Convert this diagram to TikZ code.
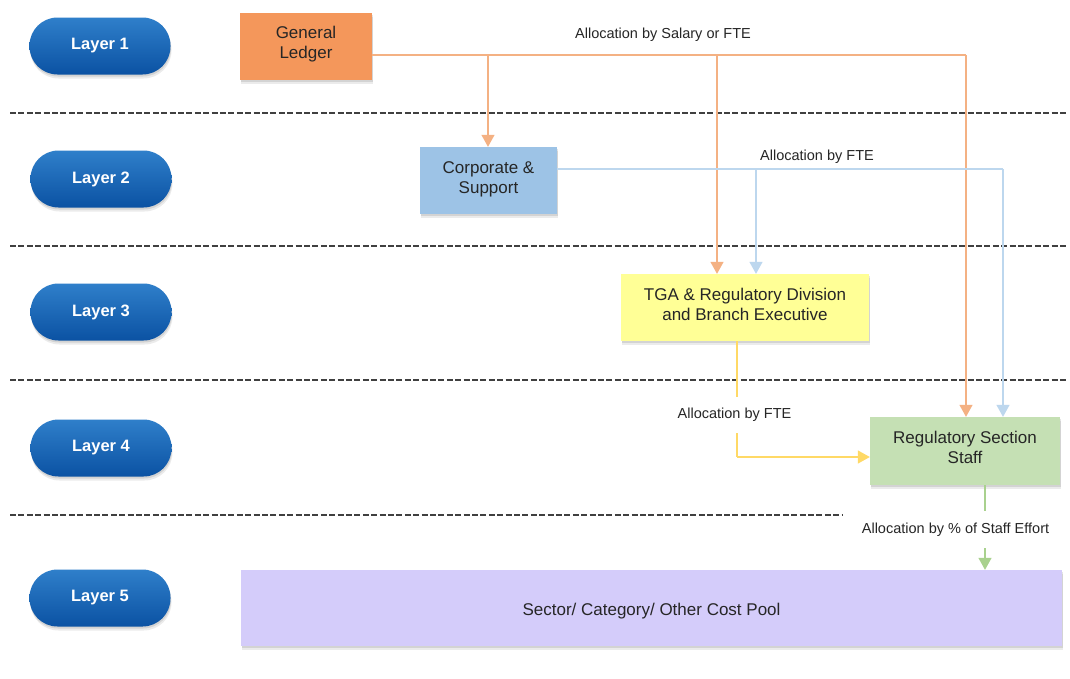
\documentclass[tikz,border=0pt]{standalone}
\usepackage{fontspec}
\setmainfont{Liberation Sans}
\usetikzlibrary{arrows.meta,shadows}
\definecolor{txt}{HTML}{262626}
\definecolor{pilltop}{HTML}{2F7FCA}
\definecolor{pillbot}{HTML}{0B52A3}
\definecolor{glfill}{HTML}{F4975B}
\definecolor{csfill}{HTML}{9DC3E6}
\definecolor{tgafill}{HTML}{FFFF96}
\definecolor{rssfill}{HTML}{C5E0B4}
\definecolor{poolfill}{HTML}{D4CCFA}
\definecolor{oline}{HTML}{F4B183}
\definecolor{bline}{HTML}{BDD7EE}
\definecolor{yline}{HTML}{FFD966}
\definecolor{gline}{HTML}{A9D18E}
\tikzset{
  x=1pt, y=-1pt,
  softshadow/.style={general shadow={shadow xshift=0.5pt, shadow yshift=-2pt, opacity=0.10, fill=black},
                     general shadow={shadow xshift=1pt, shadow yshift=-4pt, opacity=0.08, fill=black}},
  pill/.style={rectangle, rounded corners=28pt, minimum width=141pt, minimum height=57pt, inner sep=0pt,
    top color=pilltop, bottom color=pillbot, draw=none, text=white,
    font=\fontsize{16.5}{18}\selectfont\bfseries, softshadow},
  box/.style={rectangle, inner sep=0pt, draw=none, softshadow},
  boxtext/.style={inner sep=0pt, text=txt, align=center, font=\fontsize{17}{20}\selectfont},
  sep/.style={draw=black!75, line width=1.3pt, dash pattern=on 6pt off 2.4pt},
  conn/.style={line width=1.2pt, -{Triangle[width=13pt,length=12pt]}},
  seg/.style={line width=1.2pt},
  lbl/.style={font=\fontsize{14.5}{16}\selectfont, text=txt, inner sep=0pt},
}
\begin{document}
\begin{tikzpicture}
\useasboundingbox (0,0) rectangle (1070,678);
\fill[white] (0,0) rectangle (1070,678);

% separators
\draw[sep] (10,113) -- (1068,113);
\draw[sep] (10,246) -- (1068,246);
\draw[sep] (10,380) -- (1068,380);
\draw[sep] (10,515) -- (1068,515);

% layer pills
\node[pill] (L1) at (100,46) {Layer 1};
\node[pill] (L2) at (101,179) {Layer 2};
\node[pill] (L3) at (101,312) {Layer 3};
\node[pill] (L4) at (101,448) {Layer 4};
\node[pill] (L5) at (100,598) {Layer 5};

% coordinates for branches
\coordinate (ob1) at (488,55);
\coordinate (ob2) at (717,55);
\coordinate (ocol) at (966,55);
\coordinate (bb1) at (756,169);
\coordinate (bcol) at (1003,169);
\coordinate (ycol) at (737,457);
\coordinate (gcol) at (985,485);

% boxes
\node[box, fill=glfill, minimum width=132pt, minimum height=67pt] (GL) at (306,46.5) {};
\node[boxtext] (GLt) at (306,44.5) {General\\Ledger};
\node[box, fill=csfill, minimum width=137pt, minimum height=67pt] (CS) at (488.5,180.5) {};
\node[boxtext] (CSt) at (488.5,179.5) {Corporate \&\\Support};
\node[box, fill=tgafill, minimum width=248pt, minimum height=67pt] (TGA) at (745,307.5) {};
\node[boxtext] (TGAt) at (745,304.5) {TGA \& Regulatory Division\\and Branch Executive};
\node[box, fill=rssfill, minimum width=190pt, minimum height=68pt] (RSS) at (965,451) {};
\node[boxtext] (RSSt) at (965,447) {Regulatory Section\\Staff};
\node[box, fill=poolfill, minimum width=821pt, minimum height=76pt] (POOL) at (651.5,608) {};
\node[boxtext] (POOLt) at (651.5,611) {Sector/ Category/ Other Cost Pool};

% orange connectors
\draw[seg, oline] (GL.east |- ocol) -- (ocol);
\draw[conn, oline] (ocol) -- (ocol |- RSS.north);
\draw[conn, oline] (ob1) -- (ob1 |- CS.north);
\draw[conn, oline] (ob2) -- (ob2 |- TGA.north);
% blue connectors
\draw[seg, bline] (CS.east |- bcol) -- (bcol);
\draw[conn, bline] (bcol) -- (bcol |- RSS.north);
\draw[conn, bline] (bb1) -- (bb1 |- TGA.north);
% yellow connector
\draw[seg, yline] (ycol |- TGA.south) -- (ycol);
\draw[conn, yline] (ycol) -- (ycol -| RSS.west);
% green connector
\draw[conn, gline] (gcol) -- (gcol |- POOL.north);

% labels
\node[lbl] (la1) at (663,35) {Allocation by Salary or FTE};
\node[lbl] (la2) at (817,157) {Allocation by FTE};
\node[lbl, fill=white, minimum width=130pt, minimum height=36pt] (la3) at (734.5,415) {Allocation by FTE};
\node[lbl, fill=white, minimum width=225pt, minimum height=37pt] (la4) at (955.5,529.5) {Allocation by \% of Staff Effort};
\end{tikzpicture}
\end{document}
